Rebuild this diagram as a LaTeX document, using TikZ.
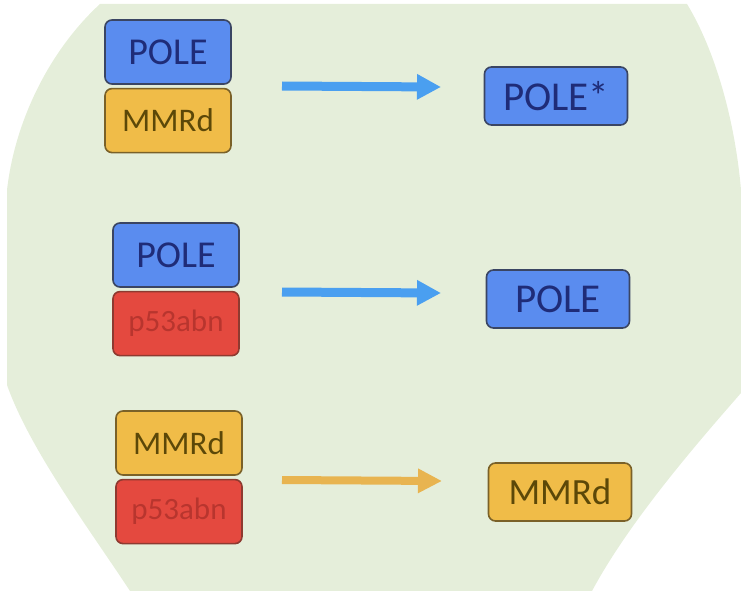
\documentclass[tikz,border=0pt]{standalone}
\usepackage{fontspec}
\setmainfont{Carlito}
\usepackage{xcolor}
\usetikzlibrary{positioning, arrows.meta}

\definecolor{slidegreen}{HTML}{E5EEDA}
\definecolor{poleblue}{HTML}{5A8CEF}
\definecolor{poleedge}{HTML}{3A4563}
\definecolor{poletext}{HTML}{1F2C78}
\definecolor{mmryellow}{HTML}{F0BC48}
\definecolor{mmredge}{HTML}{7A6128}
\definecolor{mmrtext}{HTML}{5C4808}
\definecolor{pred}{HTML}{E4493F}
\definecolor{predge}{HTML}{8E3A30}
\definecolor{ptext}{HTML}{B8352E}
\definecolor{arrowblue}{HTML}{4A9FF0}
\definecolor{arroworange}{HTML}{E8B450}

\begin{document}
\begin{tikzpicture}[x=1pt, y=-1pt, node distance=3pt,
    box/.style={draw, rounded corners=7pt, line width=1.6pt,
      minimum width=126pt, minimum height=64pt,
      font=\fontsize{38}{40}\selectfont},
    result/.style={box, minimum width=143pt, minimum height=58pt,
      font=\fontsize{41}{44}\selectfont},
    polebox/.style={fill=poleblue, draw=poleedge, text=poletext},
    mmrbox/.style={fill=mmryellow, draw=mmredge, text=mmrtext,
      font=\fontsize{33}{36}\selectfont},
    p53box/.style={fill=pred, draw=predge, text=ptext,
      font=\fontsize{31}{34}\selectfont},
    bluearrow/.style={draw=arrowblue, line width=9pt,
      -{Triangle[length=24pt, width=24pt]}},
    orangearrow/.style={draw=arroworange, line width=8pt,
      -{Triangle[length=24pt, width=23pt]}}]
   \useasboundingbox (0,0) rectangle (741,591);
   % slide seen through the photo
   \fill[slidegreen] (100,4) -- (687,4) .. controls (715,50) and (735,120) .. (741,190)
     -- (741,393) .. controls (700,440) and (630,520) .. (592,591)
     -- (130,591) .. controls (90,530) and (30,450) .. (7,385)
     -- (7,190) .. controls (15,120) and (50,50) .. (100,4) -- cycle;

   % left stacks
   \node[box, polebox] (pole1) at (168,52) {POLE};
   \node[box, mmrbox] (mmr1) [below=of pole1] {MMRd};
   \node[box, polebox] (pole2) at (176,255) {POLE};
   \node[box, p53box] (p53a) [below=of pole2] {p53abn};
   \node[box, mmrbox] (mmr2) at (179,443) {MMRd};
   \node[box, p53box] (p53b) [below=of mmr2] {p53abn};

   % right boxes
   \node[result, polebox] (polestar) at (556,96) {POLE*};
   \node[result, polebox] (pole3) at (558,299) {POLE};
   \node[result, mmrbox, font=\fontsize{37}{40}\selectfont] (mmr3) at (560,492) {MMRd};

   \coordinate (a1s) at (282,86);
   \coordinate (a1e) at (441,87);
   \coordinate (a2s) at (282,292);
   \coordinate (a2e) at (441,293);
   \coordinate (a3s) at (282,480);
   \coordinate (a3e) at (442,481);
   \path
    (a1s) edge [bluearrow] (a1e)
    (a2s) edge [bluearrow] (a2e)
    (a3s) edge [orangearrow] (a3e)
    ;
\end{tikzpicture}
\end{document}
